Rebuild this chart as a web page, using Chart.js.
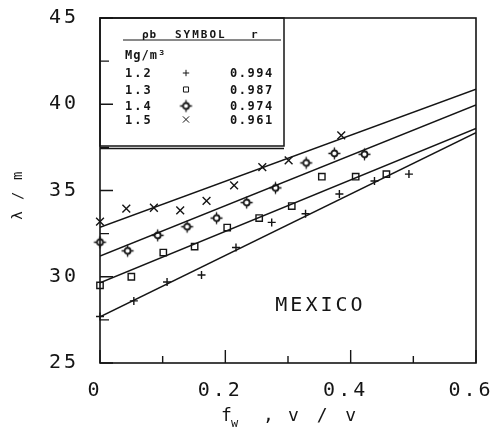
<!DOCTYPE html>
<html>
<head>
<meta charset="utf-8">
<script src="https://cdn.jsdelivr.net/npm/chart.js@4.4.1/dist/chart.umd.min.js"></script>
<style>
  html, body { margin: 0; padding: 0; background: #fff; }
</style>
</head>
<body>
<canvas id="c" width="491" height="427"></canvas>
<script>
// legend table
const densities = ['1.2', '1.3', '1.4', '1.5'];
const rValues = ['0.994', '0.987', '0.974', '0.961'];

// measured points, one pair of arrays per bulk density
const fw12 = [0, 0.054, 0.107, 0.162, 0.217, 0.274, 0.328, 0.382, 0.438, 0.493];
const val12 = [27.7, 28.6, 29.7, 30.1, 31.7, 33.15, 33.65, 34.8, 35.55, 35.95];
const fw13 = [0, 0.05, 0.101, 0.151, 0.203, 0.254, 0.306, 0.354, 0.408, 0.457];
const val13 = [29.5, 30.0, 31.4, 31.75, 32.85, 33.4, 34.1, 35.8, 35.8, 35.95];
const fw14 = [0, 0.044, 0.092, 0.139, 0.186, 0.234, 0.28, 0.329, 0.374, 0.422];
const val14 = [32.0, 31.5, 32.4, 32.9, 33.4, 34.3, 35.15, 36.6, 37.15, 37.1];
const fw15 = [0, 0.042, 0.086, 0.128, 0.17, 0.214, 0.259, 0.301, 0.385];
const val15 = [33.2, 33.95, 34.0, 33.85, 34.4, 35.3, 36.35, 36.75, 38.2];

// fitted lines, value at fw = 0 and at fw = 0.6
const fitStart = [27.68, 29.65, 31.2, 32.87];
const fitEnd = [38.35, 38.6, 39.96, 40.87];

const xTicks = [0, 0.2, 0.4, 0.6];
const xMinor = [0.1, 0.3, 0.5];
const yTicks = [25, 30, 35, 40, 45];
const yMinor = [27.5, 32.5, 37.5, 42.5];

const INK = '#151515';
const MONO = '"DejaVu Sans Mono", monospace';

// diamond-with-spokes marker
function makeSun() {
    const c = document.createElement('canvas');
    c.width = 15; c.height = 15;
    const g = c.getContext('2d');
    g.strokeStyle = INK;
    g.lineWidth = 1.8;
    g.beginPath();
    g.arc(7.5, 7.5, 3, 0, Math.PI * 2);
    g.stroke();
    g.lineWidth = 1.3;
    g.beginPath();
    g.moveTo(7.5, 1.5); g.lineTo(7.5, 4.5);
    g.moveTo(7.5, 10.5); g.lineTo(7.5, 13.5);
    g.moveTo(1.5, 7.5); g.lineTo(4.5, 7.5);
    g.moveTo(10.5, 7.5); g.lineTo(13.5, 7.5);
    g.stroke();
    return c;
}
const sun = makeSun();

const markers = [
    { pointStyle: 'cross', radius: 4 },
    { pointStyle: 'rect', radius: 4.5 },
    { pointStyle: sun, radius: 6 },
    { pointStyle: 'crossRot', radius: 5.5 }
];
const xs = [fw12, fw13, fw14, fw15];
const ys = [val12, val13, val14, val15];

const datasets = [];
xs.forEach((arr, i) => {
    datasets.push({
        type: 'scatter',
        data: arr.map((x, k) => ({ x: x, y: ys[i][k] })),
        pointStyle: markers[i].pointStyle,
        pointRadius: markers[i].radius,
        pointBorderColor: INK,
        pointBackgroundColor: 'transparent',
        pointBorderWidth: 1.4,
        clip: false
    });
    datasets.push({
        type: 'line',
        data: [{ x: 0, y: fitStart[i] }, { x: 0.6, y: fitEnd[i] }],
        borderColor: INK,
        borderWidth: 1.5,
        pointRadius: 0,
        fill: false
    });
});

function spaced(ctx, txt, x, y, sp) {
    ctx.letterSpacing = sp + 'px';
    ctx.fillText(txt, x, y);
}

const decor = {
    id: 'decor',
    beforeDraw(chart) {
        chart.ctx.letterSpacing = '3px';
    },
    afterDraw(chart) {
        const { ctx, chartArea: a, scales } = chart;
        const sx = scales.x, sy = scales.y;
        ctx.save();
        ctx.strokeStyle = INK;
        ctx.fillStyle = INK;

        // frame
        ctx.lineWidth = 1.6;
        ctx.strokeRect(a.left, a.top, a.right - a.left, a.bottom - a.top);

        // inward ticks
        ctx.lineWidth = 1.4;
        ctx.beginPath();
        xTicks.forEach(v => { const p = sx.getPixelForValue(v); ctx.moveTo(p, a.bottom); ctx.lineTo(p, a.bottom - 13); });
        xMinor.forEach(v => { const p = sx.getPixelForValue(v); ctx.moveTo(p, a.bottom); ctx.lineTo(p, a.bottom - 7); });
        yTicks.forEach(v => { const p = sy.getPixelForValue(v); ctx.moveTo(a.left, p); ctx.lineTo(a.left + 13, p); });
        yMinor.forEach(v => { const p = sy.getPixelForValue(v); ctx.moveTo(a.left, p); ctx.lineTo(a.left + 9, p); });
        ctx.stroke();

        // legend box
        const lx = a.left, ly = a.top, lw = 184, lh = 128;
        ctx.lineWidth = 1.5;
        ctx.strokeRect(lx, ly, lw, lh);
        ctx.beginPath();
        ctx.moveTo(lx, ly + lh + 2.5); ctx.lineTo(lx + lw, ly + lh + 2.5);
        ctx.stroke();
        ctx.lineWidth = 1;
        ctx.beginPath();
        ctx.moveTo(lx + 23, ly + 22); ctx.lineTo(lx + 181, ly + 22);
        ctx.stroke();

        ctx.textBaseline = 'alphabetic';
        ctx.textAlign = 'left';
        ctx.font = 'bold 11px ' + MONO;
        spaced(ctx, 'ρb', lx + 42, ly + 20, 1);
        spaced(ctx, 'SYMBOL', lx + 75, ly + 20, 2);
        spaced(ctx, 'r', lx + 151, ly + 20, 1);
        ctx.font = 'bold 12px ' + MONO;
        spaced(ctx, 'Mg/m³', lx + 25, ly + 41, 1);

        const rowY = [77, 93.5, 110, 123.5];
        densities.forEach((d, i) => {
            const yy = rowY[i];
            ctx.font = 'bold 12px ' + MONO;
            ctx.fillStyle = INK;
            spaced(ctx, d, lx + 25, yy, 2);
            spaced(ctx, rValues[i], lx + 130, yy, 1.5);
            ctx.fillStyle = 'rgba(0,0,0,0)';
            Chart.helpers.drawPoint(ctx, {
                pointStyle: markers[i].pointStyle,
                radius: markers[i].radius * 0.8,
                borderWidth: 1.4
            }, lx + 86, yy - 4);
        });
        ctx.fillStyle = INK;

        // site name
        ctx.font = '20px ' + MONO;
        ctx.textBaseline = 'middle';
        spaced(ctx, 'MEXICO', sx.getPixelForValue(0.35) - 44, sy.getPixelForValue(28.3), 3);

        // x title with subscript
        ctx.textBaseline = 'alphabetic';
        ctx.font = '18px ' + MONO;
        spaced(ctx, 'f', 221, 421, 0);
        ctx.font = '12px ' + MONO;
        spaced(ctx, 'w', 231, 427, 0);
        ctx.font = '18px ' + MONO;
        spaced(ctx, ',', 263, 421, 0);
        spaced(ctx, 'v / v', 288, 421, 3.5);

        // y title
        ctx.save();
        ctx.translate(18, 195);
        ctx.rotate(-Math.PI / 2);
        ctx.textAlign = 'center';
        ctx.textBaseline = 'middle';
        ctx.font = '14px ' + MONO;
        spaced(ctx, 'λ / m', 0, 0, 1.5);
        ctx.restore();

        ctx.restore();
    }
};

new Chart(document.getElementById('c'), {
    type: 'scatter',
    data: { datasets: datasets },
    options: {
        responsive: false,
        animation: false,
        devicePixelRatio: 1,
        layout: { padding: { top: 18, right: 15, left: 0, bottom: 0 } },
        plugins: { legend: { display: false }, tooltip: { enabled: false } },
        scales: {
            x: {
                type: 'linear',
                min: 0, max: 0.6,
                grid: { display: false },
                border: { display: false },
                afterFit: s => { s.height = 64; s.paddingLeft = 0; s.paddingRight = 0; },
                afterBuildTicks: s => { s.ticks = xTicks.map(v => ({ value: v })); },
                ticks: {
                    color: INK,
                    font: { family: MONO, size: 20 },
                    padding: 8,
                    labelOffset: -5,
                    maxRotation: 0,
                    callback: v => (v === 0 ? '0' : v.toFixed(1))
                }
            },
            y: {
                type: 'linear',
                min: 25, max: 45,
                grid: { display: false },
                border: { display: false },
                afterFit: s => { s.width = 100; s.paddingTop = 0; s.paddingBottom = 0; },
                afterBuildTicks: s => { s.ticks = yTicks.map(v => ({ value: v })); },
                ticks: {
                    color: INK,
                    font: { family: MONO, size: 20 },
                    padding: 13
                }
            }
        }
    },
    plugins: [decor]
});
</script>
</body>
</html>
